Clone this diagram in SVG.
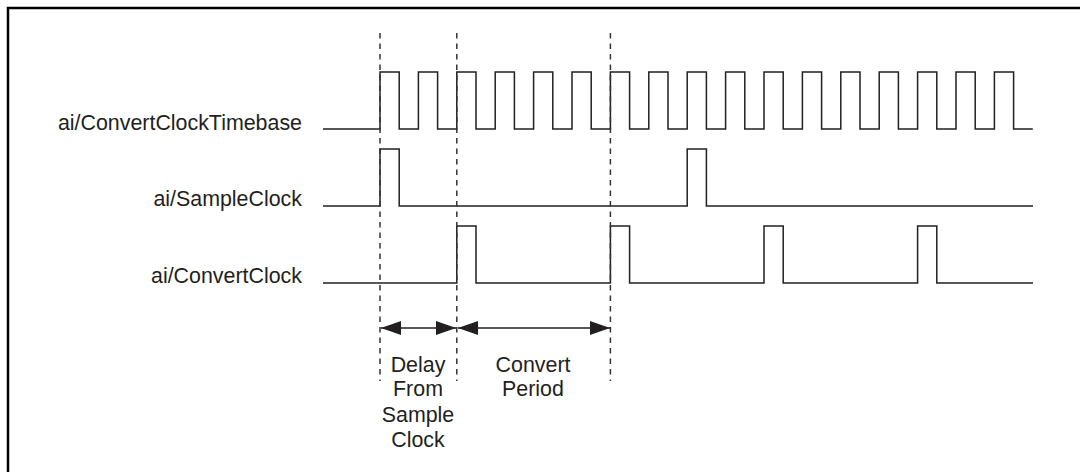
<svg xmlns="http://www.w3.org/2000/svg" width="1080" height="472" viewBox="0 0 1080 472">
<style>
.sig{fill:none;stroke:#231f20;stroke-width:1.5}
.dash{fill:none;stroke:#333;stroke-width:1.5;stroke-dasharray:5.5 5}
.lbl{font-family:"Liberation Sans",Arial,sans-serif;font-size:21.4px;fill:#231f20}
.arr{stroke:#231f20;stroke-width:1.5;marker-start:url(#ah);marker-end:url(#ah)}
</style>
<defs>
<marker id="ah" viewBox="0 0 20 14" refX="20" refY="7" markerWidth="20" markerHeight="14" markerUnits="userSpaceOnUse" orient="auto-start-reverse">
<path d="M0,0 L20,7 L0,14 Z" fill="#231f20"/>
</marker>
</defs>
<rect width="1080" height="472" fill="#fff"/>
<path d="M8,472 V8 H1080" fill="none" stroke="#000" stroke-width="2.5"/>
<g id="timebase">
<text class="lbl" x="302" y="130" text-anchor="end">ai/ConvertClockTimebase</text>
<path class="sig" d="M323,129 H380 V72 h19.2 V129 h19.2 V72 h19.2 V129 h19.2 V72 h19.2 V129 h19.2 V72 h19.2 V129 h19.2 V72 h19.2 V129 h19.2 V72 h19.2 V129 h19.2 V72 h19.2 V129 h19.2 V72 h19.2 V129 h19.2 V72 h19.2 V129 h19.2 V72 h19.2 V129 h19.2 V72 h19.2 V129 h19.2 V72 h19.2 V129 h19.2 V72 h19.2 V129 h19.2 V72 h19.2 V129 h19.2 V72 h19.2 V129 h19.2 V72 h19.2 V129 h19.2 V72 h19.2 V129 h19.2"/>
</g>
<g id="sampleclock">
<text class="lbl" x="302" y="206" text-anchor="end">ai/SampleClock</text>
<path class="sig" d="M323,206 H380 V149 H399.2 V206 H687.2 V149 H706.4 V206 H1033"/>
</g>
<g id="convertclock">
<text class="lbl" x="302" y="283" text-anchor="end">ai/ConvertClock</text>
<path class="sig" d="M323,283 H456.8 V226 H476 V283 H610.4 V226 H629.6 V283 H764 V226 H783.2 V283 H917.6 V226 H936.8 V283 H1033"/>
</g>
<g id="connectors">
<line class="dash" x1="380" y1="33" x2="380" y2="381"/>
<line class="dash" x1="456.8" y1="33" x2="456.8" y2="381"/>
<line class="dash" x1="610.4" y1="33" x2="610.4" y2="381"/>
<line class="arr" x1="381" y1="328" x2="456" y2="328"/>
<line class="arr" x1="458" y1="328" x2="610" y2="328"/>
</g>
<g id="delay-label">
<text class="lbl" text-anchor="middle"><tspan x="418" y="372">Delay</tspan><tspan x="418" y="396">From</tspan><tspan x="418" y="422">Sample</tspan><tspan x="418" y="447">Clock</tspan></text>
</g>
<g id="period-label">
<text class="lbl" text-anchor="middle"><tspan x="533" y="372">Convert</tspan><tspan x="533" y="396">Period</tspan></text>
</g>
</svg>
